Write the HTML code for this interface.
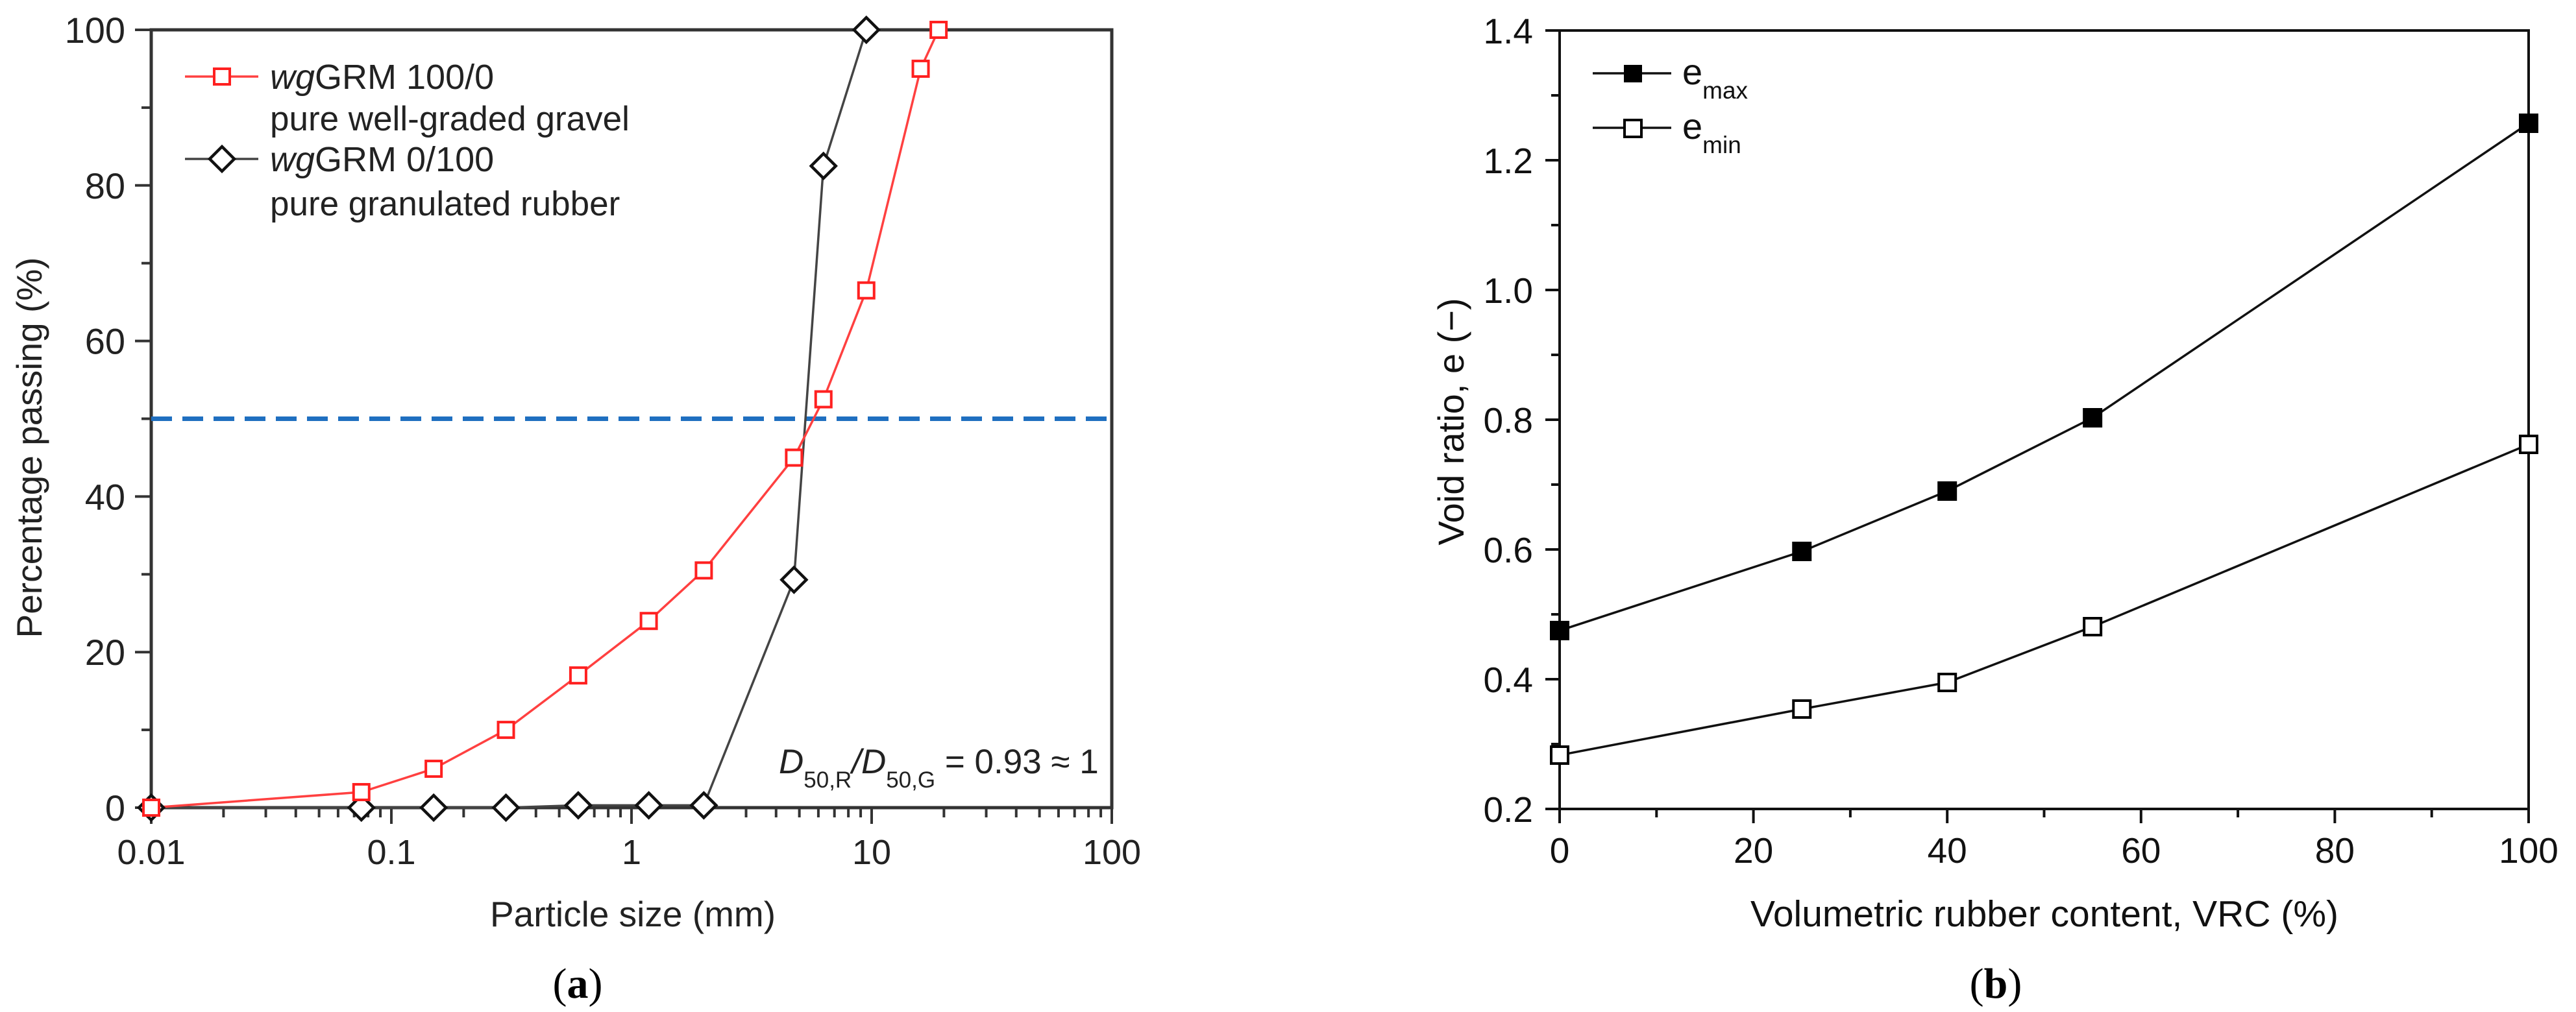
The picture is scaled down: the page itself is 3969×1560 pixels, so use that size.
<!DOCTYPE html>
<html><head><meta charset="utf-8"><style>
html,body{margin:0;padding:0;background:#fff;}
svg{display:block;font-family:"Liberation Sans",sans-serif;}
</style></head><body>
<svg id="fig" width="3969" height="1560" viewBox="0 0 3969 1560" xmlns="http://www.w3.org/2000/svg">
<rect width="3969" height="1560" fill="#fff"/>
<g id="chartA"></g>
<g id="chartB"></g>
</svg>
<script>
// ---- Chart A data ----
const sizesGravel = [0.01,0.075,0.15,0.3,0.6,1.18,2,4.75,6.3,9.5,16,19];
const passGravel = [0,2,5,10,17,24,30.5,45,52.5,66.5,95,100];
const sizesRubber = [0.01,0.075,0.15,0.3,0.6,1.18,2,4.75,6.3,9.5];
const passRubber = [0,0,0,0,0.3,0.3,0.3,29.3,82.5,100];
const aXTicks = [0.01,0.1,1,10,100];
const aXTickLabels = ["0.01","0.1","1","10","100"];
const aYTicks = [0,20,40,60,80,100];
const refLine = [50];
// ---- Chart B data ----
const vrc = [0,25,40,55,100];
const eMax = [0.475,0.597,0.69,0.803,1.257];
const eMin = [0.283,0.354,0.395,0.481,0.762];
const bXTicks = [0,20,40,60,80,100];
const bYTicks = [0.2,0.4,0.6,0.8,1.0,1.2,1.4];
const bYTickLabels = ["0.2","0.4","0.6","0.8","1.0","1.2","1.4"];

const NS="http://www.w3.org/2000/svg";
function mk(parent,tag,attrs,text){const e=document.createElementNS(NS,tag);for(const k in attrs)e.setAttribute(k,attrs[k]);if(text!==undefined)e.textContent=text;parent.appendChild(e);return e;}

// ===== Chart A =====
const A=document.getElementById('chartA');
const aL=233,aR=1713,aT=46,aB=1245;
const ax=v=>aL+(Math.log10(v)+2)/4*(aR-aL);
const ay=v=>aB-v/100*(aB-aT);
let fr=mk(A,'rect',{x:aL,y:aT,width:aR-aL,height:aB-aT,fill:'none',stroke:'#333',"stroke-width":5});


for(let d=-2;d<2;d++){for(let m=2;m<=9;m++){const x=ax(m*Math.pow(10,d));const t=mk(A,'line',{x1:x,x2:x,y1:aB,y2:aB+15,stroke:'#333',"stroke-width":4});

}}
aXTicks.forEach((v,i)=>{const x=ax(v);const t=mk(A,'line',{x1:x,x2:x,y1:aB,y2:aB+25,stroke:'#333',"stroke-width":4});


const l=mk(A,'text',{x:x,y:1332,"font-size":54,"text-anchor":"middle",fill:'#222'},aXTickLabels[i]);

});
for(let v=0;v<=100;v+=10){const y=ay(v);const major=v%20===0;const t=mk(A,'line',{x1:aL-(major?25:15),x2:aL,y1:y,y2:y,stroke:'#333',"stroke-width":4});

}
aYTicks.forEach(v=>{const l=mk(A,'text',{x:193,y:ay(v)+20,"font-size":56,"text-anchor":"end",fill:'#222'},String(v));

});
let t1=mk(A,'text',{x:975,y:1428,"font-size":55,"text-anchor":"middle",fill:'#222'},'Particle size (mm)');


let t2=mk(A,'text',{x:0,y:0,"font-size":55,"text-anchor":"middle",fill:'#222',transform:'translate(64,690) rotate(-90)'},'Percentage passing (%)');


let rl=mk(A,'line',{x1:aL,x2:aR,y1:ay(refLine[0]),y2:ay(refLine[0]),stroke:'#1f6fc0',"stroke-width":7,"stroke-dasharray":"32 16"});


function polyA(xs,ys,col,name){const p=mk(A,'polyline',{points:xs.map((v,i)=>ax(v)+','+ay(ys[i])).join(' '),fill:'none',stroke:col,"stroke-width":3.5});

}
polyA(sizesRubber,passRubber,'#444','rubber-line');
polyA(sizesGravel,passGravel,'#ff4040','gravel-line');
sizesRubber.forEach((v,i)=>{const x=ax(v),y=ay(passRubber[i]);const d=mk(A,'polygon',{points:`${x},${y-19} ${x+19},${y} ${x},${y+19} ${x-19},${y}`,fill:'#fff',stroke:'#111',"stroke-width":4.5});

});
sizesGravel.forEach((v,i)=>{const x=ax(v),y=ay(passGravel[i]);const s=mk(A,'rect',{x:x-12,y:y-12,width:24,height:24,fill:'#fff',stroke:'#ff2020',"stroke-width":4});

});
let lg=mk(A,'g',{});


mk(lg,'line',{x1:285,x2:398,y1:118,y2:118,stroke:'#ff4040',"stroke-width":3.5});
mk(lg,'rect',{x:330,y:106,width:24,height:24,fill:'#fff',stroke:'#ff2020',"stroke-width":4});
let le1=mk(lg,'text',{x:416,y:137,"font-size":54,fill:'#222'});


mk(le1,'tspan',{"font-style":"italic"},'wg');mk(le1,'tspan',{},'GRM 100/0');
mk(lg,'text',{x:416,y:201,"font-size":53,fill:'#222'},'pure well-graded gravel');
mk(lg,'line',{x1:285,x2:398,y1:245,y2:245,stroke:'#444',"stroke-width":3.5});
mk(lg,'polygon',{points:"342,226 361,245 342,264 323,245",fill:'#fff',stroke:'#111',"stroke-width":4.5});
let le2=mk(lg,'text',{x:416,y:264,"font-size":54,fill:'#222'});


mk(le2,'tspan',{"font-style":"italic"},'wg');mk(le2,'tspan',{},'GRM 0/100');
mk(lg,'text',{x:416,y:332,"font-size":53,fill:'#222'},'pure granulated rubber');
let an=mk(A,'text',{x:1200,y:1192,"font-size":53,fill:'#222'});


mk(an,'tspan',{"font-style":"italic"},'D');mk(an,'tspan',{"font-size":35,dy:22},'50,R');mk(an,'tspan',{"font-style":"italic",dy:-22},'/D');mk(an,'tspan',{"font-size":35,dy:22},'50,G');mk(an,'tspan',{dy:-22},' = 0.93 ≈ 1');
let pa=mk(A,'text',{x:890,y:1538,"font-size":66,"text-anchor":"middle",fill:'#000',"font-family":"Liberation Serif, serif"});


mk(pa,'tspan',{},'(');mk(pa,'tspan',{"font-weight":"bold"},'a');mk(pa,'tspan',{},')');

// ===== Chart B =====
const B=document.getElementById('chartB');
const bL=2403,bR=3896,bT=47,bB=1247;
const bx=v=>bL+v/100*(bR-bL);
const by=v=>bB-(v-0.2)/1.2*(bB-bT);
let frb=mk(B,'rect',{x:bL,y:bT,width:bR-bL,height:bB-bT,fill:'none',stroke:'#111',"stroke-width":4});


for(let v=0;v<=100;v+=10){const x=bx(v);const major=v%20===0;const t=mk(B,'line',{x1:x,x2:x,y1:bB,y2:bB+(major?22:13),stroke:'#111',"stroke-width":4});

}
bXTicks.forEach(v=>{const l=mk(B,'text',{x:bx(v),y:1330,"font-size":55,"text-anchor":"middle",fill:'#111'},String(v));

});
for(let k=0;k<=12;k++){const v=0.2+k*0.1;const y=by(v);const major=k%2===0;const t=mk(B,'line',{x1:bL-(major?22:13),x2:bL,y1:y,y2:y,stroke:'#111',"stroke-width":4});

}
bYTicks.forEach((v,i)=>{const l=mk(B,'text',{x:2362,y:by(v)+20,"font-size":55,"text-anchor":"end",fill:'#111'},bYTickLabels[i]);

});
let tb1=mk(B,'text',{x:3150,y:1428,"font-size":57,"text-anchor":"middle",fill:'#111'},'Volumetric rubber content, VRC (%)');


let tb2=mk(B,'text',{x:0,y:0,"font-size":56,"text-anchor":"middle",fill:'#111',transform:'translate(2255,650) rotate(-90)'},'Void ratio, e (−)');


function polyB(ys,name){const p=mk(B,'polyline',{points:vrc.map((v,i)=>bx(v)+','+by(ys[i])).join(' '),fill:'none',stroke:'#111',"stroke-width":3.5});

}
polyB(eMax,'emax-line');polyB(eMin,'emin-line');
vrc.forEach((v,i)=>{const s=mk(B,'rect',{x:bx(v)-14,y:by(eMax[i])-14,width:28,height:28,fill:'#000',stroke:'#000',"stroke-width":2});


const s2=mk(B,'rect',{x:bx(v)-13,y:by(eMin[i])-13,width:26,height:26,fill:'#fff',stroke:'#000',"stroke-width":4});

});
let lgb=mk(B,'g',{});


mk(lgb,'line',{x1:2454,x2:2575,y1:113,y2:113,stroke:'#111',"stroke-width":3.5});
mk(lgb,'rect',{x:2502,y:100,width:28,height:27,fill:'#000'});
let lb1=mk(lgb,'text',{x:2592,y:130,"font-size":56,fill:'#111'},'e');


mk(lb1,'tspan',{"font-size":37,dy:22},'max');
mk(lgb,'line',{x1:2454,x2:2575,y1:197,y2:197,stroke:'#111',"stroke-width":3.5});
mk(lgb,'rect',{x:2503,y:185,width:26,height:26,fill:'#fff',stroke:'#000',"stroke-width":4});
let lb2=mk(lgb,'text',{x:2592,y:214,"font-size":56,fill:'#111'},'e');


mk(lb2,'tspan',{"font-size":37,dy:22},'min');
let pb=mk(B,'text',{x:3075,y:1538,"font-size":66,"text-anchor":"middle",fill:'#000',"font-family":"Liberation Serif, serif"});


mk(pb,'tspan',{},'(');mk(pb,'tspan',{"font-weight":"bold"},'b');mk(pb,'tspan',{},')');
</script>
</body></html>
